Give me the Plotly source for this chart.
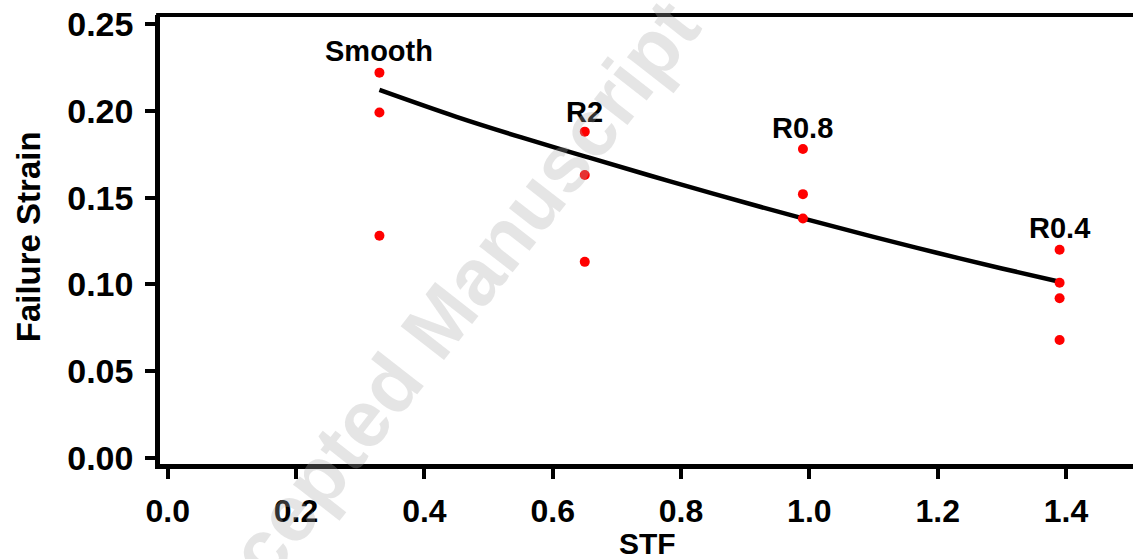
import plotly.graph_objects as go

# ---- data ----
smooth_x = [0.33, 0.33, 0.33]
smooth_y = [0.222, 0.199, 0.128]
r2_x = [0.65, 0.65, 0.65]
r2_y = [0.188, 0.163, 0.113]
r08_x = [0.99, 0.99, 0.99]
r08_y = [0.178, 0.152, 0.138]
r04_x = [1.39, 1.39, 1.39, 1.39]
r04_y = [0.120, 0.101, 0.092, 0.068]

# fitted trend curve
fit_x = [0.33, 0.45, 0.55, 0.65, 0.75, 0.85, 0.99, 1.10, 1.20, 1.30, 1.39]
fit_y = [0.212, 0.1965, 0.1848, 0.1738, 0.1629, 0.1523, 0.138, 0.1274, 0.1181, 0.1092, 0.1015]

label_text = ["Smooth", "R2", "R0.8", "R0.4"]
label_x = [0.33, 0.65, 0.99, 1.39]
label_y = [0.2347, 0.1995, 0.190, 0.1325]

x_ticks = [0.0, 0.2, 0.4, 0.6, 0.8, 1.0, 1.2, 1.4]
x_tick_text = ["0.0", "0.2", "0.4", "0.6", "0.8", "1.0", "1.2", "1.4"]
y_ticks = [0.00, 0.05, 0.10, 0.15, 0.20, 0.25]
y_tick_text = ["0.00", "0.05", "0.10", "0.15", "0.20", "0.25"]

FONT = "Arial, Liberation Sans, Helvetica, sans-serif"

L, R, T, B = 160, 0, 15, 95
W, H = 1133, 559
pw, ph = W - L - R, H - T - B

fig = go.Figure()

fig.add_trace(go.Scatter(x=fit_x, y=fit_y, mode="lines",
                         line=dict(color="black", width=4.5, shape="spline", smoothing=1.0),
                         hoverinfo="skip", showlegend=False))

all_x = smooth_x + r2_x + r08_x + r04_x
all_y = smooth_y + r2_y + r08_y + r04_y
fig.add_trace(go.Scatter(x=all_x, y=all_y, mode="markers",
                         marker=dict(color="#ff0000", size=10, line=dict(width=0)),
                         showlegend=False))

for t, xx, yy in zip(label_text, label_x, label_y):
    fig.add_annotation(x=xx, y=yy, xref="x", yref="y", text=t, showarrow=False,
                       xanchor="center", yanchor="middle",
                       font=dict(family=FONT, size=29, color="black", weight="bold"))

# axis titles
fig.add_annotation(x=(28 - L) / pw, y=0.505, xref="paper", yref="paper", text="Failure Strain",
                   showarrow=False, textangle=-90, xanchor="center", yanchor="middle",
                   font=dict(family=FONT, size=33, color="black", weight="bold"))
fig.add_annotation(x=(647 - L) / pw, y=(H - B - 543) / ph, xref="paper", yref="paper", text="STF",
                   showarrow=False, xanchor="center", yanchor="middle",
                   font=dict(family=FONT, size=30, color="black", weight="bold"))

# top frame line
fig.add_shape(type="line", xref="paper", yref="paper", x0=-0.004, x1=1, y0=1, y1=1,
              line=dict(color="black", width=4))

# watermark
fig.add_annotation(x=(432 - L) / pw, y=(H - B - 330) / ph, xref="paper", yref="paper",
                   text="Accepted Manuscript", showarrow=False, textangle=-52,
                   xanchor="center", yanchor="middle",
                   font=dict(family=FONT, size=80, color="rgba(170,170,170,0.30)", weight="bold"))

fig.update_layout(
    width=W, height=H,
    margin=dict(l=L, r=R, t=T, b=B, pad=0),
    plot_bgcolor="white", paper_bgcolor="white",
    font=dict(family=FONT, color="black"),
    xaxis=dict(range=[-0.0120, 1.5044], tickvals=x_ticks, ticktext=x_tick_text,
               showgrid=False, zeroline=False, showline=True, linecolor="black", linewidth=4.5,
               ticks="outside", ticklen=10, tickwidth=4, tickcolor="black",
               tickfont=dict(family=FONT, size=32, color="black", weight="bold"),
               ticklabelstandoff=5),
    yaxis=dict(range=[-0.00346, 0.2552], tickvals=y_ticks, ticktext=y_tick_text,
               showgrid=False, zeroline=False, showline=True, linecolor="black", linewidth=4.5,
               ticks="outside", ticklen=10, tickwidth=4, tickcolor="black",
               tickfont=dict(family=FONT, size=34, color="black", weight="bold"),
               ticklabelstandoff=5),
)

fig.write_html("out.html")
